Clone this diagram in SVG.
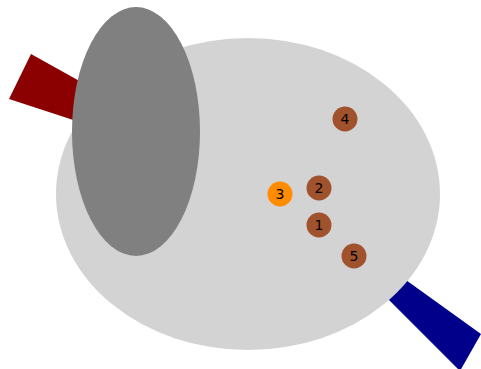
<svg xmlns="http://www.w3.org/2000/svg" width="481" height="369" viewBox="0 0 481 369">
<style>
.n circle{stroke:none}
.n text{font-family:"DejaVu Sans",sans-serif;font-size:14px;fill:#000;text-anchor:middle;dominant-baseline:central}
.s{fill:#a0522d}
</style>
<rect width="481" height="369" fill="#fff"/>
<g id="red-bar"><polygon points="31,54 9,99 110,132 110,98" fill="#8b0000"/></g>
<g id="blue-bar"><polygon points="360,247 481,334 460,371 360,271" fill="#00008b"/></g>
<g id="body"><ellipse cx="248" cy="194" rx="192" ry="156" fill="#d3d3d3"/></g>
<g id="head"><ellipse cx="136" cy="131.5" rx="64" ry="124.5" fill="#808080"/></g>
<g id="connectors"></g>
<g id="n4" class="n"><circle class="s" cx="345" cy="119" r="12.5"/><text x="345" y="119">4</text></g>
<g id="n2" class="n"><circle class="s" cx="319" cy="188" r="12.5"/><text x="319" y="188">2</text></g>
<g id="n3" class="n"><circle cx="280" cy="194" r="12.5" fill="#ff8c00"/><text x="280" y="194">3</text></g>
<g id="n1" class="n"><circle class="s" cx="319" cy="225" r="12.5"/><text x="319" y="225">1</text></g>
<g id="n5" class="n"><circle class="s" cx="354" cy="256" r="12.5"/><text x="354" y="256">5</text></g>
</svg>
